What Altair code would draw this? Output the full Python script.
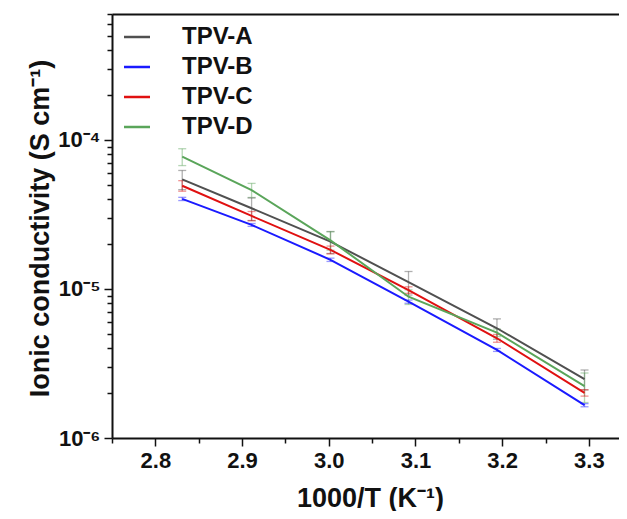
import altair as alt
import pandas as pd

# ---- data ----
x_vals = [2.831, 2.911, 3.002, 3.092, 3.194, 3.295]
series = ["TPV-A", "TPV-B", "TPV-C", "TPV-D"]
A = [5.44e-5, 3.48e-5, 2.08e-5, 1.11e-5, 5.45e-6, 2.48e-6]
B = [4.02e-5, 2.69e-5, 1.57e-5, 8.22e-6, 3.90e-6, 1.66e-6]
C = [4.93e-5, 3.09e-5, 1.83e-5, 9.84e-6, 4.67e-6, 2.01e-6]
D = [7.73e-5, 4.61e-5, 2.12e-5, 8.87e-6, 5.09e-6, 2.23e-6]
A_err = [0.8e-5, 0.6e-5, 0.35e-5, 0.2e-5, 0.85e-6, 0.38e-6]
B_err = [0.1e-5, 0.06e-5, 0.04e-5, 0.02e-5, 0.09e-6, 0.04e-6]
C_err = [0.4e-5, 0.22e-5, 0.11e-5, 0.05e-5, 0.28e-6, 0.1e-6]
D_err = [1.0e-5, 0.5e-5, 0.3e-5, 0.1e-5, 0.3e-6, 0.5e-6]
colors = ["#505050", "#1a1aff", "#e01010", "#5aa55a"]

x_major = [2.8, 2.9, 3.0, 3.1, 3.2, 3.3]
x_minor = [2.75, 2.85, 2.95, 3.05, 3.15, 3.25]
y_major = [1e-6, 1e-5, 1e-4]
y_minor = [m * 10.0 ** e for e in (-6, -5) for m in range(2, 10)] + [m * 1e-4 for m in range(2, 8)]

rows = []
for name, vals, errs in zip(series, [A, B, C, D], [A_err, B_err, C_err, D_err]):
    for xv, v, e in zip(x_vals, vals, errs):
        rows.append({"x": xv, "y": v, "lo": v - e, "hi": v + e, "s": name})
df = pd.DataFrame(rows)

FONT = "Liberation Sans"
xs = alt.Scale(domain=[2.75, 3.344], nice=False, zero=False)
ys = alt.Scale(type="log", domain=[1e-6, 7e-4], nice=False)
cs = alt.Scale(domain=series, range=colors)

legend = alt.Legend(
    title=None, orient="none", legendX=13, legendY=11, symbolType="M-2.6,0H2.6", symbolSize=100,
    symbolStrokeWidth=2.5, symbolOpacity=1, labelFont=FONT, labelFontWeight="bold", labelFontSize=24,
    labelColor="#111111", labelOffset=33, rowPadding=6, padding=0)
color = alt.Color("s:N", scale=cs, legend=legend)

label_expr = ("datum.value < 2e-6 ? '10\u207b\u2076' : datum.value < 2e-5 ? '10\u207b\u2075' : '10\u207b\u2074'")

tick_style = dict(tickColor="#111111", tickWidth=1.5, labelFont=FONT, labelFontWeight="bold",
                  labelColor="#111111", titleFont=FONT, titleFontWeight="bold", titleColor="#111111", grid=False)
axis_common = dict(domainColor="#111111", domainWidth=2, **tick_style)

base = alt.Chart(df)

err_rule = base.mark_rule(strokeWidth=1.3, opacity=0.45).encode(
    x=alt.X("x:Q", scale=xs, axis=alt.Axis(values=x_major, format=".1f", tickSize=8, labelFontSize=22,
                                           labelPadding=4, title="1000/T (K\u207b\u00b9)", titleFontSize=27,
                                           titleX=258, titleY=68, titleBaseline="alphabetic",
                                           orient="bottom", **axis_common)),
    y=alt.Y("lo:Q", scale=ys, axis=alt.Axis(values=y_major, labelExpr=label_expr, tickSize=8, labelFontSize=22,
                                            labelPadding=4, title="Ionic conductivity (S cm\u207b\u00b9)",
                                            titleFontSize=27, titleX=-72, titleY=214, titleAngle=-90,
                                            titleAlign="center", titleBaseline="middle",
                                            orient="left", **axis_common)),
    y2="hi:Q",
    color=color,
)

caps_lo = base.mark_tick(orient="horizontal", size=8, thickness=1.3, opacity=0.45).encode(
    x=alt.X("x:Q", scale=xs, axis=alt.Axis(values=x_minor, tickSize=5, labels=False, domain=False,
                                           title=None, orient="bottom", **tick_style)),
    y=alt.Y("lo:Q", scale=ys, axis=alt.Axis(values=y_minor, tickSize=5, labels=False, domain=False,
                                            title=None, orient="left", **tick_style)),
    color=color,
)

caps_hi = base.mark_tick(orient="horizontal", size=8, thickness=1.3, opacity=0.45).encode(
    x=alt.X("x:Q", scale=xs, axis=alt.Axis(orient="top", ticks=False, labels=False, title=None,
                                           domainColor="#111111", domainWidth=2, grid=False)),
    y=alt.Y("hi:Q", scale=ys, axis=None),
    color=color,
)

lines = base.mark_line(strokeWidth=2).encode(
    x=alt.X("x:Q", scale=xs, axis=None),
    y=alt.Y("y:Q", scale=ys, axis=None),
    color=color,
    order=alt.Order("x:Q"),
)

chart = alt.layer(err_rule, caps_lo, caps_hi, lines).resolve_axis(x="independent", y="independent").properties(
    width=515, height=424,
    autosize=alt.AutoSizeParams(type="none"),
    padding={"left": 104, "top": 6, "right": -8, "bottom": 73},
).configure_view(stroke=None).configure(background="white")

chart.save("out.html", embed_options={"renderer": "svg", "actions": False})
